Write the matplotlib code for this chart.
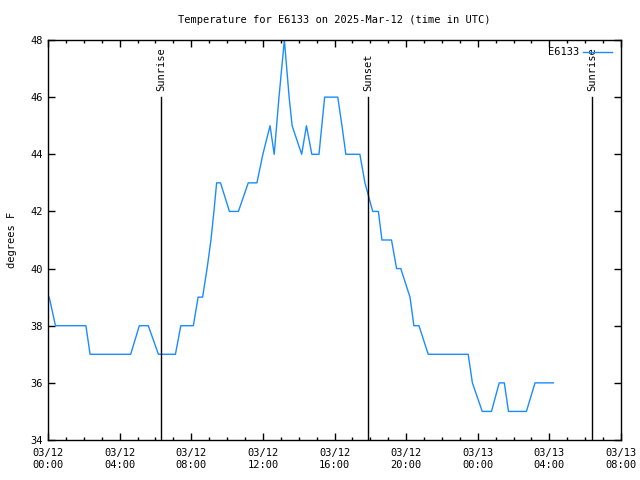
import matplotlib
matplotlib.use("Agg")
import matplotlib.pyplot as plt
import matplotlib.dates as mdates
import pandas as pd

# temperature readings (UTC)
times = [
    "2025-03-12 00:04", "2025-03-12 00:25", "2025-03-12 02:07", "2025-03-12 02:21",
    "2025-03-12 04:37", "2025-03-12 05:06", "2025-03-12 05:36", "2025-03-12 06:10",
    "2025-03-12 07:07", "2025-03-12 07:25", "2025-03-12 08:07", "2025-03-12 08:23",
    "2025-03-12 08:38", "2025-03-12 08:53", "2025-03-12 09:06", "2025-03-12 09:16",
    "2025-03-12 09:25", "2025-03-12 09:38", "2025-03-12 10:08", "2025-03-12 10:38",
    "2025-03-12 11:11", "2025-03-12 11:40", "2025-03-12 12:00", "2025-03-12 12:24",
    "2025-03-12 12:38", "2025-03-12 12:54", "2025-03-12 13:03", "2025-03-12 13:12",
    "2025-03-12 13:28", "2025-03-12 13:38", "2025-03-12 14:10", "2025-03-12 14:26",
    "2025-03-12 14:44", "2025-03-12 15:08", "2025-03-12 15:27", "2025-03-12 16:11",
    "2025-03-12 16:25", "2025-03-12 16:38", "2025-03-12 17:25", "2025-03-12 17:42",
    "2025-03-12 18:08", "2025-03-12 18:27", "2025-03-12 18:39", "2025-03-12 19:11",
    "2025-03-12 19:28", "2025-03-12 19:42", "2025-03-12 20:13", "2025-03-12 20:26",
    "2025-03-12 20:43", "2025-03-12 21:14", "2025-03-12 23:28", "2025-03-12 23:42",
    "2025-03-13 00:15", "2025-03-13 00:46", "2025-03-13 01:12", "2025-03-13 01:29",
    "2025-03-13 01:43", "2025-03-13 02:43", "2025-03-13 03:12", "2025-03-13 04:13",
]
temps = [
    39, 38, 38, 37,
    37, 38, 38, 37,
    37, 38, 38, 39,
    39, 40, 41, 42,
    43, 43, 42, 42,
    43, 43, 44, 45,
    44, 46, 47, 48,
    46, 45, 44, 45,
    44, 44, 46, 46,
    45, 44, 44, 43,
    42, 42, 41, 41,
    40, 40, 39, 38,
    38, 37, 37, 36,
    35, 35, 36, 36,
    35, 35, 36, 36,
]

sun_times = ["2025-03-12 06:19", "2025-03-12 17:52", "2025-03-13 06:23"]
sun_labels = ["Sunrise", "Sunset", "Sunrise"]

x_start = "2025-03-12 00:00"
x_end = "2025-03-13 08:00"
y_ticks = [34, 36, 38, 40, 42, 44, 46, 48]

plt.rcParams['font.family'] = ['DejaVu Sans Mono']
plt.rcParams['font.size'] = 7.5

fig = plt.figure(figsize=(6.4, 4.8), dpi=100)
ax = fig.add_axes([48 / 640, 40 / 480, 573 / 640, 400 / 480])

t = pd.to_datetime(times)
ax.plot(t, temps, color='#1a8cff', linewidth=1, label='E6133')

# sunrise / sunset markers
for st, lab in zip(pd.to_datetime(sun_times), sun_labels):
    ax.plot([st, st], [34, 46], color='black', linewidth=1)
    ax.text(st, 46.2, lab, rotation=90, ha='center', va='bottom', fontsize=7.5)

ax.set_xlim(pd.Timestamp(x_start), pd.Timestamp(x_end))
ax.set_ylim(34, 48)
ax.set_yticks(y_ticks)

ax.xaxis.set_major_locator(mdates.HourLocator(byhour=range(0, 24, 4)))
ax.xaxis.set_minor_locator(mdates.HourLocator())
ax.xaxis.set_major_formatter(mdates.DateFormatter('%m/%d\n%H:%M'))

ax.tick_params(which='both', direction='in', top=True, right=True, labelsize=7.5)
ax.tick_params(which='major', length=5, width=1)
ax.tick_params(which='minor', length=2.5, width=1)
ax.tick_params(axis='x', pad=6)
for s in ax.spines.values():
    s.set_linewidth(1)

ax.set_ylabel('degrees F', fontsize=7.5, labelpad=10)
ax.set_title('Temperature for E6133 on 2025-Mar-12 (time in UTC)', fontsize=7.5, pad=12)

ax.legend(loc='upper right', frameon=False, markerfirst=False, handlelength=2.8,
          handletextpad=0.3, fontsize=7.5, borderaxespad=0.3,
          bbox_to_anchor=(0.997, 1.0))

fig.savefig('out.png', dpi=100)
